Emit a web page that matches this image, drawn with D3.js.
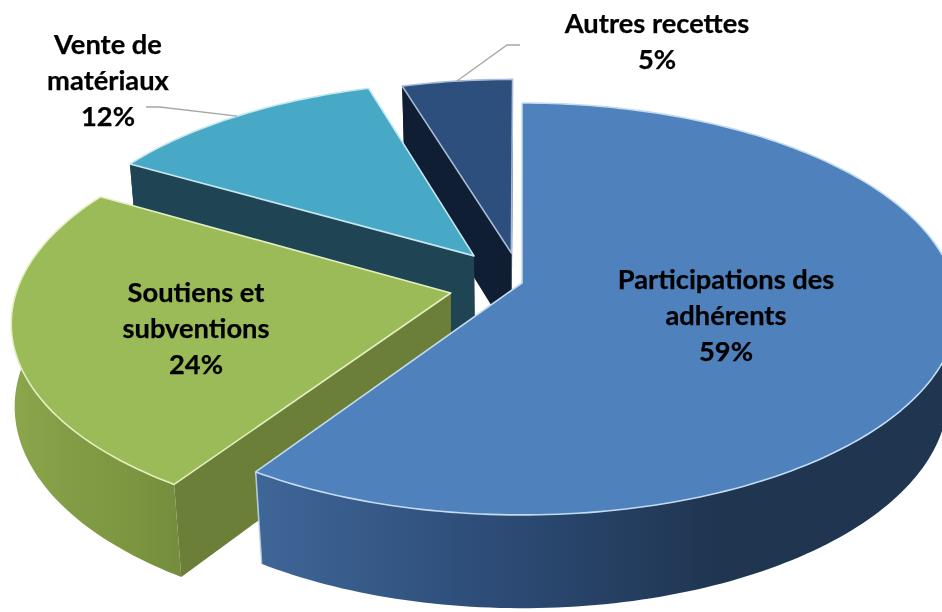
<!DOCTYPE html>
<html><head><meta charset="utf-8">
<script src="https://cdn.jsdelivr.net/npm/d3@7"></script>
<style>html,body{margin:0;padding:0;background:#fff}svg{display:block}</style>
</head><body><svg id="c" width="942" height="612"></svg>
<script>
// Data
const categories = ["Participations des adhérents","Soutiens et subventions","Vente de matériaux","Autres recettes"];
const values = [59.3,24,12,4.7];
const percentLabels = ["59%","24%","12%","5%"];
const labelLines = [["Participations des","adhérents"],["Soutiens et","subventions"],["Vente de","matériaux"],["Autres recettes"]];

// Slice styling and layout
const topColors = ["#4f81bd","#9bbb59","#47a9c5","#2d4f7e"];
const edgeColors = ["#c4dcf2","#e4efc0","#c8e8f0","#a9bdd6"];
const cutColors = ["#1f3550","#6b7f38","#1f4554","#0f1e32"];
const wallStops = [["#3f6698","#2d4c77","#1f3550","#1f3550"],["#8ba64c","#829d45","#7d9741","#748c3c"],["#1f4554","#1f4554","#1f4554","#1f4554"],["#0f1e32","#0f1e32","#0f1e32","#0f1e32"]];
const explodeU = [0,-.164,-.113,-.025];
const explodeV = [0,.049,-.136,-.150];
const shrinkA = [.022,.003,.018,.018];
const shrinkB = [0,.02,0,0];
const labelX = [726,196,108,657];
const labelY = [279,292,44,23];
const leaderElbow = [null,null,[[160,107],[146,107]],[[507,45],[520,45]]];

const cx=522,cy=283,R=432,K=202.7,P=.126,DEPTH=86;

function proj(i,u,v,h){
  const d=1-P*v, s=1-h*(shrinkA[i]+shrinkB[i]*Math.max(v,0));
  return [cx+s*u*R/d, cy+s*v*K/d+DEPTH*h/d];
}
const svg=d3.select("#c");
const defs=svg.append("defs");
defs.append("filter").attr("id","soft").attr("x","-2%").attr("y","-2%").attr("width","104%").attr("height","104%")
  .attr("color-interpolation-filters","sRGB")
  .append("feGaussianBlur").attr("stdDeviation",.45);
const root=svg.append("g").attr("filter","url(#soft)");
const line=d3.line();
const pie=d3.pie().sort(null).value(d=>d).startAngle(0).endAngle(2*Math.PI);
const arcs=pie(values);

function P3(i,th,r,h){ return proj(i,r*Math.sin(th)+explodeU[i], -r*Math.cos(th)+explodeV[i], h); }
function arcPts(i,a0,a1,h){
  const n=Math.max(2,Math.ceil(Math.abs(a1-a0)/.02));
  return d3.range(n+1).map(k=>P3(i,a0+(a1-a0)*k/n,1,h));
}

wallStops.forEach((st,i)=>{
  const g=defs.append("linearGradient").attr("id","w"+i).attr("x1",0).attr("x2",1).attr("y1",0).attr("y2",0);
  st.forEach((c,k)=>g.append("stop").attr("offset",k/(st.length-1)).attr("stop-color",c));
});

// back to front
[3,2,1,0].forEach(i=>{
  const a=arcs[i], g=root.append("g").attr("class","slice");
  const O0=P3(i,0,0,0), O1=P3(i,0,0,1);
  // cut walls
  [a.startAngle,a.endAngle].forEach(th=>{
    g.append("path").attr("d",line([O0,P3(i,th,1,0),P3(i,th,1,1),O1])+"Z").attr("fill",cutColors[i]);
  });
  // outer wall (back part ends up hidden under the top face)
  const pts=arcPts(i,a.startAngle,a.endAngle,0).concat(arcPts(i,a.endAngle,a.startAngle,1));
  g.append("path").attr("d",line(pts)+"Z").attr("fill",`url(#w${i})`);
  if(i<2){
    g.append("path").attr("d",line([P3(i,a.endAngle,1,0),P3(i,a.endAngle,1,1)]))
      .attr("stroke",edgeColors[i]).attr("stroke-width",1.6).attr("fill","none").attr("opacity",.85);
  }
  // top face
  const topPts=[O0].concat(arcPts(i,a.startAngle,a.endAngle,0));
  g.append("path").attr("d",line(topPts)+"Z").attr("fill",topColors[i])
    .attr("stroke",edgeColors[i]).attr("stroke-width",1.6).attr("stroke-linejoin","round");
});

// leaders
arcs.forEach((a,i)=>{
  if(!leaderElbow[i])return;
  const mid=(a.startAngle+a.endAngle)/2;
  root.append("path").attr("d",line([P3(i,mid,1,0)].concat(leaderElbow[i])))
    .attr("fill","none").attr("stroke","#a6a6a6").attr("stroke-width",1.3);
});

// labels
labelLines.forEach((lines,i)=>{
  const all=lines.concat([percentLabels[i]]);
  const t=root.append("text").attr("text-anchor","middle").attr("font-family","Lato, sans-serif")
    .attr("font-weight",700).attr("font-size",27.3).attr("fill","#000").attr("stroke","#000").attr("stroke-width",.25);
  all.forEach((s,k)=>t.append("tspan").attr("x",labelX[i]).attr("y",labelY[i]+36*k).attr("dy","0.35em").text(s));
});
</script></body></html>
